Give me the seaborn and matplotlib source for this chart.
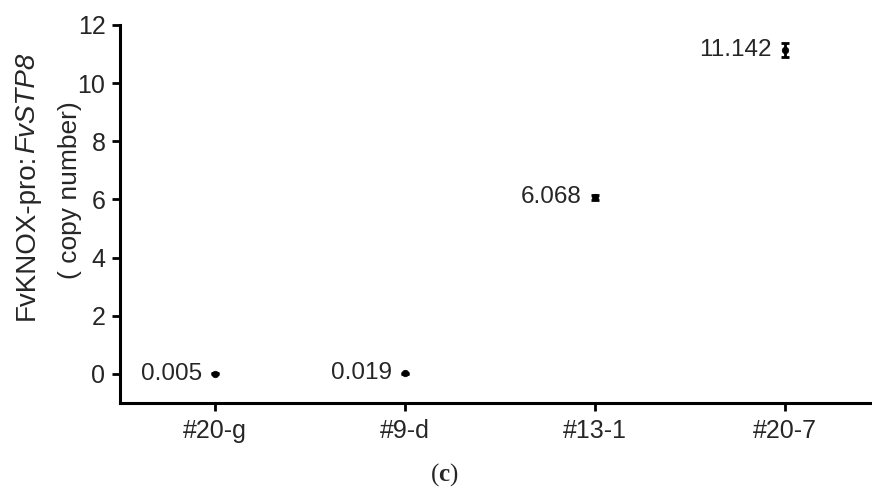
import matplotlib
matplotlib.use("Agg")
import matplotlib.pyplot as plt
import numpy as np
import pandas as pd
import seaborn as sns

# data
samples = ["#20-g", "#9-d", "#13-1", "#20-7"]
copy_number = [0.005, 0.019, 6.068, 11.142]
err = [0.02, 0.02, 0.10, 0.24]
y_ticks = [0, 2, 4, 6, 8, 10, 12]

sns.set_style("ticks")
plt.rcParams["font.family"] = ["Liberation Sans", "DejaVu Sans"]
plt.rcParams["mathtext.fontset"] = "custom"
plt.rcParams["mathtext.bf"] = "Liberation Serif:bold"

df = pd.DataFrame({"sample": samples, "value": copy_number, "err": err})

fig = plt.figure(figsize=(8.72, 4.88), dpi=100)
ax = fig.add_axes([0.1376, 0.1742, 0.8624, 0.7746])

pos = np.arange(len(samples))
ax.errorbar(pos, df["value"], yerr=df["err"], fmt="none", ecolor="black",
            elinewidth=2, capsize=3.2, capthick=2, zorder=2)
sns.scatterplot(data=df, x="sample", y="value", ax=ax, color="black",
                s=22, marker="o", edgecolor="black", linewidth=0.5, zorder=3,
                legend=False)

for i, v in enumerate(copy_number):
    ax.annotate(f"{v:.3f}", (i, v), xytext=(-9.5, 0), textcoords="offset points",
                ha="right", va="center", fontsize=17.5)

ax.set_xlim(-0.5, 3.46)
ax.set_ylim(-1, 12)
ax.set_yticks(y_ticks)
ax.set_xticks(pos)
ax.set_xticklabels(samples)
ax.set_xlabel("")
ax.set_ylabel("")
ax.tick_params(axis="both", labelsize=18, width=2, length=5.5, color="black")
ax.tick_params(axis="x", pad=6)
ax.tick_params(axis="y", pad=5)
sns.despine(ax=ax)
for s in ["left", "bottom"]:
    ax.spines[s].set_linewidth(2.2)
    ax.spines[s].set_color("black")

# y label: two rotated lines, second part of the first line in italics
fig.canvas.draw()
renderer = fig.canvas.get_renderer()
part1 = fig.text(0.031, 0.345, "FvKNOX-pro:", rotation=90,
                 ha="center", va="bottom", fontsize=20)
bb = part1.get_window_extent(renderer)
fig.text(0.031, bb.y1 / fig.bbox.height, "FvSTP8", rotation=90, style="italic",
         ha="center", va="bottom", fontsize=20)
fig.text(0.080, 0.611, "( copy number)", rotation=90,
         ha="center", va="center", fontsize=19)
fig.text(0.509, 0.027, r"($\mathbf{c}$)", family="Liberation Serif",
         ha="center", va="center", fontsize=18)

fig.savefig("out.png", dpi=100, facecolor="white")
